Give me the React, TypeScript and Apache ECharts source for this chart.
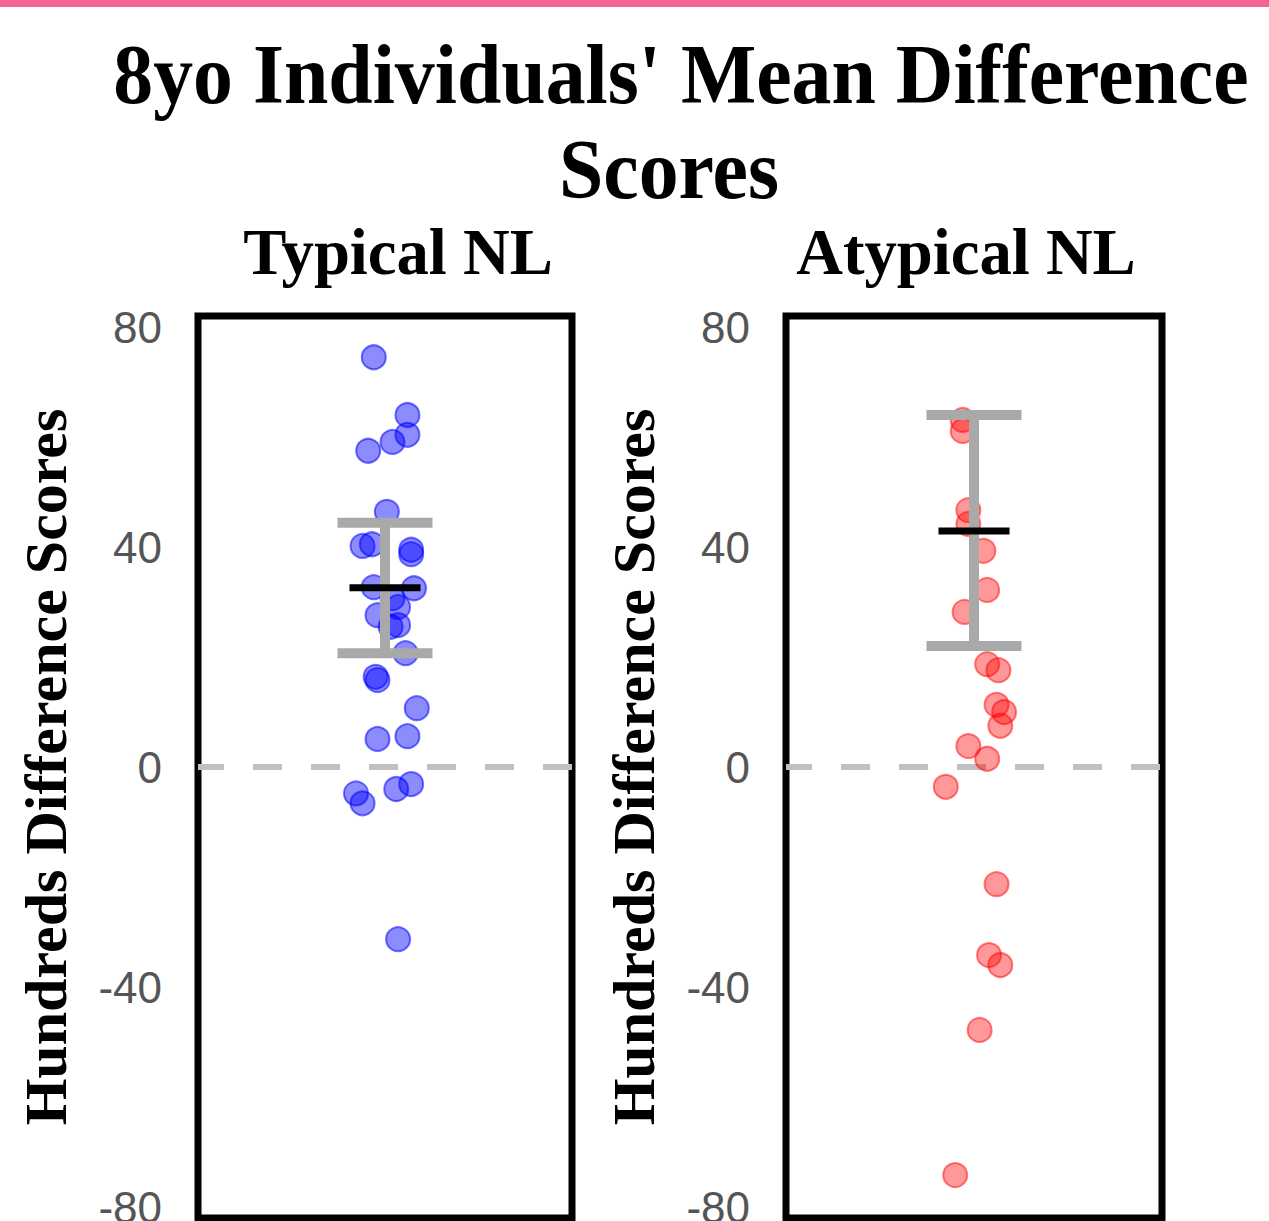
import React, { useEffect, useRef } from "react";
import * as echarts from "echarts";

const chartTitleLines = ["8yo Individuals' Mean Difference", "Scores"];
const panelTitles = ["Typical NL", "Atypical NL"];
const yAxisName = "Hundreds Difference Scores";
const yTicks = [-80, -40, 0, 40, 80];

const typicalScores = [
  74.5, 64, 60.4, 59.1, 57.5, 46.4, 40.2, 40.5, 39.5, 38.7, 32.7, 32.5, 30.7, 29.1,
  27.6, 25.5, 25.8, 20.7, 16.4, 15.8, 10.7, 5.1, 5.6, -4.8, -6.6, -4.0, -3.1, -31.3,
];
const typicalJitter = [
  -0.06, 0.12, 0.12, 0.04, -0.09, 0.01, -0.12, -0.07, 0.14, 0.14, -0.06, 0.155, 0.04, 0.07,
  -0.04, 0.03, 0.07, 0.11, -0.05, -0.04, 0.17, -0.04, 0.12, -0.155, -0.12, 0.06, 0.14, 0.07,
];
const atypicalScores = [
  63.1, 61.1, 46.7, 44.2, 39.3, 32.2, 28.2, 18.7, 17.6, 11.3, 10, 7.5, 3.8, 1.5, -3.6,
  -21.3, -34.2, -36, -47.8, -74.2,
];
const atypicalJitter = [
  -0.06, -0.06, -0.03, -0.03, 0.05, 0.07, -0.05, 0.07, 0.13, 0.12, 0.16, 0.14, -0.03, 0.07,
  -0.15, 0.12, 0.08, 0.14, 0.03, -0.1,
];
const summaryMean = [32.6, 42.9];
const summaryLow = [20.7, 22.0];
const summaryHigh = [44.4, 64.0];

const SERIF = '"Times New Roman", "Liberation Serif", serif';
const SANS = '"Liberation Sans", Arial, sans-serif';

export default function App() {
  const ref = useRef<HTMLDivElement>(null);

  useEffect(() => {
    document.body.style.margin = "0";
    if (!ref.current) return;
    const chart = echarts.init(ref.current, null, { renderer: "svg" });

    const grids = [
      { left: 198, top: 316, width: 374, height: 902 },
      { left: 786, top: 316, width: 376, height: 902 },
    ];
    const pointSets = [
      { scores: typicalScores, jitter: typicalJitter, fill: "rgba(0,0,255,0.45)", edge: "rgba(0,0,255,0.55)" },
      { scores: atypicalScores, jitter: atypicalJitter, fill: "rgba(255,0,0,0.4)", edge: "rgba(255,0,0,0.5)" },
    ];

    const option: any = {
      animation: false,
      backgroundColor: "#fff",
      grid: grids.map((g) => ({
        ...g,
        show: true,
        borderColor: "#000",
        borderWidth: 7,
        backgroundColor: "#fff",
        containLabel: false,
        outerBoundsMode: "none",
      })),
      xAxis: grids.map((_, i) => ({
        type: "value",
        gridIndex: i,
        min: -1,
        max: 1,
        show: false,
      })),
      yAxis: grids.map((_, i) => ({
        type: "value",
        gridIndex: i,
        min: -82,
        max: 82,
        axisLine: { show: false },
        axisTick: { show: false },
        splitLine: { show: false },
        axisLabel: {
          customValues: yTicks,
          color: "#555",
          fontSize: 44,
          fontFamily: SANS,
          margin: 36,
        },
        name: yAxisName,
        nameLocation: "middle",
        nameGap: 122,
        nameTextStyle: {
          fontFamily: SERIF,
          fontWeight: "bold",
          fontSize: 60,
          color: "#000",
        },
      })),
      series: [
        ...pointSets.map((p, i) => ({
          type: "scatter",
          xAxisIndex: i,
          yAxisIndex: i,
          symbol: "circle",
          symbolSize: 24,
          z: 2,
          itemStyle: { color: p.fill, borderColor: p.edge, borderWidth: 2, opacity: 1 },
          data: p.scores.map((v, k) => [p.jitter[k], v]),
          markLine: {
            silent: true,
            symbol: "none",
            label: { show: false },
            lineStyle: { color: "#c0c0c0", width: 6, type: [29, 29], dashOffset: 3 },
            data: [{ yAxis: 0 }],
            z: 1,
          },
        })),
        ...grids.map((_, i) => ({
          type: "custom",
          xAxisIndex: i,
          yAxisIndex: i,
          z: 5,
          data: [[0, summaryLow[i], summaryMean[i], summaryHigh[i]]],
          renderItem: (params: any, api: any) => {
            const x = api.value(0);
            const pLo = api.coord([x, api.value(1)]);
            const pM = api.coord([x, api.value(2)]);
            const pHi = api.coord([x, api.value(3)]);
            const gray = { stroke: "#a9a9a9", lineWidth: 10 };
            return {
              type: "group",
              children: [
                { type: "line", shape: { x1: pLo[0], y1: pLo[1], x2: pHi[0], y2: pHi[1] }, style: gray },
                { type: "line", shape: { x1: pLo[0] - 47.5, y1: pLo[1], x2: pLo[0] + 47.5, y2: pLo[1] }, style: gray },
                { type: "line", shape: { x1: pHi[0] - 47.5, y1: pHi[1], x2: pHi[0] + 47.5, y2: pHi[1] }, style: gray },
                {
                  type: "line",
                  shape: { x1: pM[0] - 35.5, y1: pM[1], x2: pM[0] + 35.5, y2: pM[1] },
                  style: { stroke: "#000", lineWidth: 7 },
                },
              ],
            };
          },
        })),
      ],
      graphic: [
        { type: "rect", left: 0, top: 0, shape: { width: 1269, height: 7 }, style: { fill: "#f36593" } },
        {
          type: "text",
          x: 681,
          y: 75,
          scaleX: 0.95,
          style: {
            text: chartTitleLines[0],
            fontFamily: SERIF,
            fontWeight: "bold",
            fontSize: 84,
            fill: "#000",
            align: "center",
            verticalAlign: "middle",
          },
        },
        {
          type: "text",
          x: 669,
          y: 170,
          scaleX: 0.95,
          style: {
            text: chartTitleLines[1],
            fontFamily: SERIF,
            fontWeight: "bold",
            fontSize: 84,
            fill: "#000",
            align: "center",
            verticalAlign: "middle",
          },
        },
        ...panelTitles.map((t, i) => ({
          type: "text",
          x: i === 0 ? 398 : 966,
          y: 252,
          scaleX: 0.98,
          style: {
            text: t,
            fontFamily: SERIF,
            fontWeight: "bold",
            fontSize: 66,
            fill: "#000",
            align: "center",
            verticalAlign: "middle",
          },
        })),
      ],
    };

    chart.setOption(option);
    return () => chart.dispose();
  }, []);

  return <div ref={ref} style={{ width: 1269, height: 1221 }} />;
}
